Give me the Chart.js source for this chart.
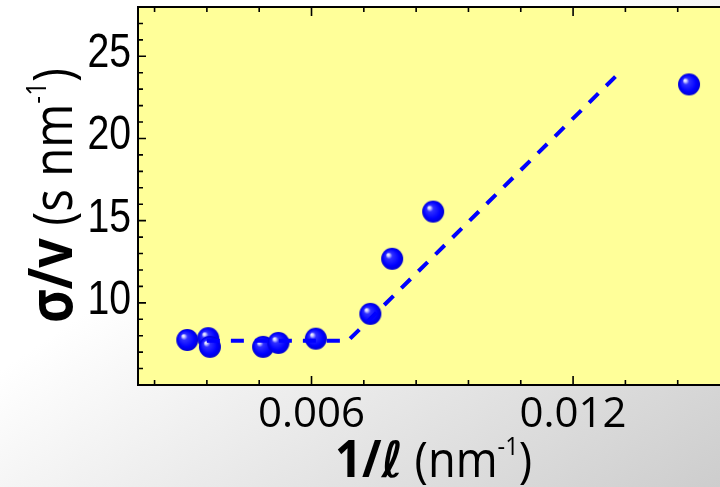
<!DOCTYPE html>
<html>
<head>
<meta charset="utf-8">
<script src="https://cdn.jsdelivr.net/npm/chart.js@4.4.0/dist/chart.umd.min.js"></script>
<style>
  html, body { margin: 0; padding: 0; }
  body {
    width: 720px; height: 487px; overflow: hidden;
    background: linear-gradient(to bottom right, #ffffff 0%, #ffffff 38%, #cdcdcd 100%);
  }
  #chart { display: block; }
</style>
</head>
<body>
<canvas id="chart" width="720" height="487"></canvas>
<script>
// measured points: 1/l (nm^-1) vs sigma/v (s nm^-1)
const invLength = [0.00315, 0.00363, 0.00367, 0.00489, 0.00524, 0.00610, 0.00735, 0.00785, 0.00879, 0.01466];
const sigmaOverV = [7.74, 7.85, 7.32, 7.32, 7.56, 7.82, 9.33, 12.68, 15.55, 23.29];

// dashed guide: plateau then linear rise
const guideX = [0.0036, 0.00684, 0.0130];
const guideY = [7.70, 7.70, 23.84];

// axes
const xRange = [0.00202, 0.01537];
const yRange = [5, 28];
const xMajor = [0.006, 0.012];
const xMinor = [0.0024, 0.0036, 0.0048, 0.0072, 0.0084, 0.0096, 0.0108, 0.0132, 0.0144];
const yMajor = [10, 15, 20, 25];
const yMinor = [6, 7, 8, 9, 11, 12, 13, 14, 16, 17, 18, 19, 21, 22, 23, 24, 26, 27];

const yTitle = [
    { t: "σ/v", font: "bold 60px 'Open Sans', 'DejaVu Sans'" },
    { t: " (s nm", font: "55px 'Open Sans', 'DejaVu Sans'" },
    { t: "-1", font: "28px 'Open Sans', 'DejaVu Sans'", dy: -26 },
    { t: ")", font: "55px 'Open Sans', 'DejaVu Sans'" }
];
const xTitle = [
    { t: "1/", font: "bold 52px 'Open Sans', 'DejaVu Sans'" },
    { t: "ℓ", font: "bold italic 50px 'DejaVu Sans'" },
    { t: " (nm", font: "50px 'Open Sans', 'DejaVu Sans'" },
    { t: "-1", font: "26px 'Open Sans', 'DejaVu Sans'", dy: -22 },
    { t: ")", font: "50px 'Open Sans', 'DejaVu Sans'" }
];

/* shaded ball marker */
function makeBall(r) {
    const c = document.createElement("canvas");
    c.width = c.height = 2 * r + 2;
    const g = c.getContext("2d");
    const cx = r + 1, cy = r + 1;
    const grad = g.createRadialGradient(cx - r * 0.4, cy - r * 0.4, 0, cx, cy, r);
    grad.addColorStop(0, "#ffffff");
    grad.addColorStop(0.12, "#d0d0ff");
    grad.addColorStop(0.3, "#3030ff");
    grad.addColorStop(0.75, "#0000ff");
    grad.addColorStop(1, "#0000d0");
    g.fillStyle = grad;
    g.beginPath();
    g.arc(cx, cy, r, 0, Math.PI * 2);
    g.fill();
    return c;
}

function drawRich(ctx, parts, width) {
    let total = 0;
    parts.forEach(p => { ctx.font = p.font; p.w = ctx.measureText(p.t).width; total += p.w; });
    const k = Math.min(1, width / total);
    ctx.scale(k, 1);
    let pos = 0;
    parts.forEach(p => { ctx.font = p.font; ctx.fillText(p.t, pos, p.dy || 0); pos += p.w; });
}

const framePlugin = {
    id: "frame",
    beforeDraw(c) {
        const { ctx, chartArea: a } = c;
        ctx.save();
        ctx.fillStyle = "#ffff99";
        ctx.fillRect(a.left, a.top, a.right - a.left, a.bottom - a.top);
        ctx.restore();
    },
    afterDatasetsDraw(c) {
        const { ctx, chartArea: a, scales: { x, y } } = c;
        ctx.save();
        ctx.strokeStyle = "#000";
        ctx.lineWidth = 2;
        ctx.beginPath();
        ctx.moveTo(a.right, a.top);
        ctx.lineTo(a.left, a.top);
        ctx.lineTo(a.left, a.bottom);
        ctx.lineTo(a.right, a.bottom);
        ctx.stroke();

        ctx.lineWidth = 1.6;
        ctx.beginPath();
        const xt = (v, len) => {
            const p = x.getPixelForValue(v);
            ctx.moveTo(p, a.bottom); ctx.lineTo(p, a.bottom - len);
            ctx.moveTo(p, a.top); ctx.lineTo(p, a.top + len);
        };
        const yt = (v, len) => {
            const p = y.getPixelForValue(v);
            ctx.moveTo(a.left, p); ctx.lineTo(a.left + len, p);
        };
        xMajor.forEach(v => xt(v, 9));
        xMinor.forEach(v => xt(v, 5));
        yMajor.forEach(v => yt(v, 8));
        yMinor.forEach(v => yt(v, 5));
        ctx.stroke();

        // narrow y tick labels
        ctx.fillStyle = "#000";
        ctx.font = "49px 'Liberation Sans', Arial";
        ctx.textAlign = "right";
        ctx.textBaseline = "alphabetic";
        yMajor.forEach(v => {
            const p = y.getPixelForValue(v);
            ctx.save();
            ctx.translate(a.left - 7, p + 11);
            ctx.scale(0.8, 1);
            ctx.fillText(String(v), 0, 0);
            ctx.restore();
        });
        ctx.restore();
    },
    afterDraw(c) {
        const ctx = c.ctx;
        ctx.save();
        ctx.fillStyle = "#000";
        ctx.textBaseline = "alphabetic";
        ctx.translate(72, 323);
        ctx.rotate(-Math.PI / 2);
        drawRich(ctx, yTitle, 255);
        ctx.restore();

        ctx.save();
        ctx.fillStyle = "#000";
        ctx.textBaseline = "alphabetic";
        ctx.translate(335, 477);
        drawRich(ctx, xTitle, 197);
        ctx.restore();
    }
};

const ball = makeBall(11);

new Chart(document.getElementById("chart"), {
    type: "scatter",
    data: {
        datasets: [
            {
                data: guideX.map((v, i) => ({ x: v, y: guideY[i] })),
                showLine: true,
                borderColor: "#0000ff",
                borderWidth: 4,
                borderDash: [13, 11],
                pointRadius: 0,
                fill: false
            },
            {
                data: invLength.map((v, i) => ({ x: v, y: sigmaOverV[i] })),
                pointStyle: ball,
                pointRadius: 11,
                borderWidth: 0
            }
        ]
    },
    options: {
        responsive: false,
        animation: false,
        events: [],
        layout: { autoPadding: false, padding: { top: 7, left: 0, right: 0, bottom: 0 } },
        plugins: { legend: { display: false }, tooltip: { enabled: false } },
        scales: {
            x: {
                type: "linear",
                min: xRange[0],
                max: xRange[1],
                grid: { display: false, drawTicks: false },
                border: { display: false },
                afterBuildTicks: s => { s.ticks = xMajor.map(v => ({ value: v })); },
                afterFit: s => { s.height = 102; s.paddingLeft = 0; s.paddingRight = 0; },
                ticks: {
                    padding: 5,
                    color: "#000",
                    maxRotation: 0,
                    font: { family: "'Open Sans', 'DejaVu Sans'", size: 42 },
                    callback: v => v.toFixed(3)
                }
            },
            y: {
                type: "linear",
                min: yRange[0],
                max: yRange[1],
                grid: { display: false, drawTicks: false },
                border: { display: false },
                afterBuildTicks: s => { s.ticks = yMajor.map(v => ({ value: v })); },
                afterFit: s => { s.width = 138; s.paddingTop = 0; s.paddingBottom = 0; },
                ticks: { display: false }
            }
        }
    },
    plugins: [framePlugin]
});
</script>
</body>
</html>
